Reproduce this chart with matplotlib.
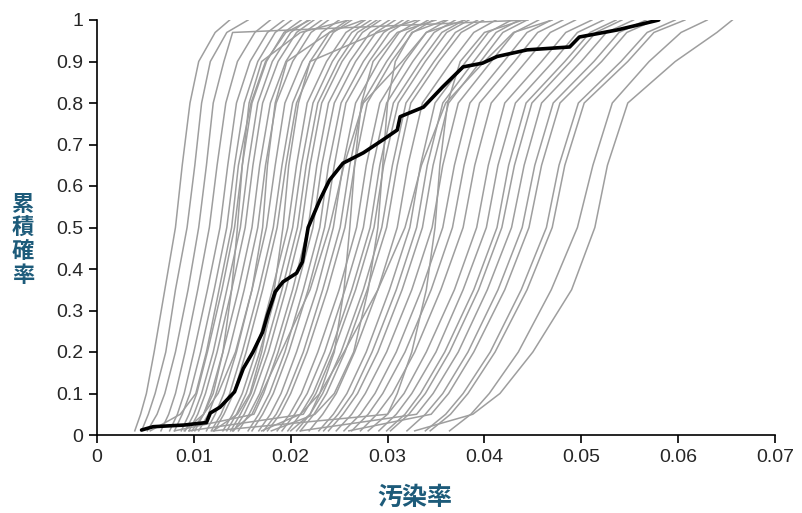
import matplotlib
matplotlib.use("Agg")
import matplotlib.pyplot as plt
import numpy as np

# cumulative probability levels at which each simulated run is tabulated
levels = [0.01, 0.05, 0.1, 0.2, 0.35, 0.5, 0.65, 0.8, 0.9, 0.97, 1.0]

# contamination rate (per mille) of each simulated run at those levels
runs_permille = [
    [3.9, 4.5, 5.1, 5.9, 7.0, 8.1, 8.8, 9.6, 10.5, 12.2, 13.7],
    [4.6, 5.3, 6.0, 7.1, 8.1, 9.3, 10.1, 10.8, 11.7, 13.4, 15.6],
    [5.2, 6.2, 7.0, 8.1, 9.4, 10.5, 11.3, 12.0, 13.1, 14.0, 44.5],
    [6.6, 7.4, 8.1, 9.1, 10.4, 11.6, 12.4, 13.3, 14.5, 16.3, 17.9],
    [7.5, 8.3, 9.0, 10.0, 11.4, 12.7, 13.5, 14.4, 15.8, 17.6, 19.3],
    [8.0, 8.8, 9.6, 10.7, 12.1, 13.4, 14.2, 15.2, 16.6, 18.4, 20.1],
    [5.5, 8.6, 10.2, 11.3, 12.6, 13.9, 14.6, 15.9, 17.4, 19.5, 22.0],
    [8.7, 9.5, 10.3, 11.4, 12.9, 14.2, 15.0, 16.0, 17.5, 19.3, 21.1],
    [9.8, 11.0, 12.0, 13.0, 13.9, 14.5, 15.0, 15.7, 17.0, 21.0, 26.0],
    [9.1, 10.0, 10.8, 12.0, 13.4, 14.8, 15.6, 16.6, 18.1, 20.0, 21.8],
    [9.5, 10.4, 11.2, 12.4, 13.9, 15.3, 16.1, 17.1, 18.7, 20.6, 22.4],
    [10.1, 11.0, 11.8, 13.0, 14.6, 16.0, 16.8, 17.9, 19.5, 21.4, 23.2],
    [10.5, 11.5, 12.3, 13.6, 15.2, 16.6, 17.4, 18.5, 20.2, 22.1, 23.9],
    [9.0, 11.0, 12.5, 14.3, 16.0, 17.1, 17.6, 18.4, 19.6, 24.0, 27.5],
    [11.3, 12.2, 13.1, 14.4, 16.0, 17.5, 18.4, 19.4, 21.2, 23.2, 25.0],
    [11.8, 12.8, 13.7, 15.0, 16.7, 18.2, 19.1, 20.2, 22.0, 24.0, 25.9],
    [12.1, 13.1, 14.1, 15.4, 17.1, 18.6, 19.5, 20.6, 22.5, 24.4, 26.3],
    [12.0, 14.5, 15.8, 17.0, 18.3, 19.2, 19.8, 20.8, 22.0, 29.0, 33.0],
    [13.0, 14.0, 15.0, 16.4, 18.1, 19.7, 20.6, 21.7, 23.7, 25.7, 27.7],
    [13.4, 14.4, 15.4, 16.8, 18.6, 20.2, 21.1, 22.3, 24.3, 26.3, 28.3],
    [13.8, 14.8, 15.9, 17.3, 19.1, 20.7, 21.6, 22.8, 24.9, 26.9, 28.9],
    [14.1, 15.2, 16.2, 17.7, 19.5, 21.1, 22.0, 23.2, 25.3, 27.4, 29.3],
    [14.6, 15.7, 16.8, 18.3, 20.2, 21.8, 22.7, 23.9, 26.1, 28.2, 30.2],
    [8.0, 16.2, 17.2, 18.7, 20.6, 22.3, 23.2, 24.5, 26.7, 28.8, 30.8],
    [15.6, 16.7, 17.8, 19.4, 21.3, 23.0, 23.9, 25.2, 27.5, 29.6, 31.6],
    [16.0, 17.1, 18.2, 19.8, 21.8, 23.5, 24.5, 25.7, 28.1, 30.2, 32.2],
    [14.0, 16.0, 17.0, 19.0, 22.0, 24.0, 25.5, 27.5, 31.5, 34.0, 38.0],
    [16.7, 17.9, 19.0, 20.6, 22.7, 24.4, 25.4, 26.7, 29.1, 31.2, 33.3],
    [17.2, 18.5, 19.6, 21.3, 23.3, 25.1, 26.1, 27.4, 29.9, 32.0, 34.2],
    [17.6, 18.9, 20.0, 21.7, 23.8, 25.6, 26.6, 27.9, 30.4, 32.6, 34.7],
    [20.0, 22.0, 23.0, 24.5, 25.5, 26.1, 26.6, 27.3, 28.5, 31.0, 35.0],
    [18.6, 19.9, 21.1, 22.8, 25.0, 26.8, 27.8, 29.2, 31.8, 34.0, 36.2],
    [19.1, 20.4, 21.7, 23.5, 25.6, 27.5, 28.5, 29.9, 32.6, 34.8, 37.0],
    [19.7, 21.0, 22.3, 24.1, 26.3, 28.2, 29.2, 30.6, 33.4, 35.6, 37.9],
    [9.5, 21.3, 22.6, 24.4, 26.7, 28.6, 29.6, 31.1, 33.9, 36.1, 38.4],
    [18.0, 22.5, 24.5, 26.5, 28.0, 29.0, 29.5, 30.0, 30.8, 32.5, 36.0],
    [20.6, 22.0, 23.3, 25.2, 27.5, 29.4, 30.5, 31.9, 34.8, 37.0, 39.3],
    [21.0, 22.4, 23.7, 25.6, 27.9, 29.9, 31.0, 32.4, 35.3, 37.6, 39.9],
    [21.9, 23.3, 24.7, 26.6, 29.0, 31.0, 32.1, 33.6, 36.6, 38.9, 41.2],
    [17.0, 21.0, 23.0, 25.5, 29.0, 31.8, 33.5, 36.0, 40.0, 43.0, 47.0],
    [22.9, 24.4, 25.8, 27.8, 30.2, 32.3, 33.4, 34.9, 38.1, 40.4, 42.8],
    [23.4, 24.9, 26.4, 28.4, 30.9, 33.0, 34.1, 35.7, 38.9, 41.2, 43.6],
    [23.9, 25.4, 26.9, 29.0, 31.5, 33.6, 34.7, 36.3, 39.6, 41.9, 44.4],
    [24.7, 26.3, 27.7, 29.9, 32.5, 34.6, 35.7, 37.3, 40.7, 43.1, 45.6],
    [28.0, 30.0, 31.0, 32.5, 34.0, 34.9, 35.4, 36.2, 37.5, 40.0, 44.0],
    [25.5, 27.2, 28.7, 30.9, 33.5, 35.7, 36.9, 38.5, 42.0, 44.4, 46.9],
    [26.3, 28.0, 29.5, 31.8, 34.5, 36.7, 37.9, 39.5, 43.1, 45.5, 48.1],
    [27.2, 28.9, 30.5, 32.8, 35.5, 37.8, 39.0, 40.7, 44.3, 46.8, 49.4],
    [12.0, 30.0, 31.7, 34.0, 36.9, 39.2, 40.4, 42.1, 45.9, 48.4, 51.1],
    [29.1, 30.9, 32.5, 35.0, 37.8, 40.2, 41.4, 43.2, 47.1, 49.6, 52.3],
    [29.9, 31.8, 33.4, 35.9, 38.9, 41.3, 42.5, 44.3, 48.3, 50.9, 53.6],
    [30.3, 32.2, 33.9, 36.4, 39.4, 41.8, 43.1, 44.9, 48.9, 51.5, 54.2],
    [21.0, 33.0, 34.7, 37.3, 40.3, 42.8, 44.1, 45.9, 50.0, 52.6, 55.4],
    [32.0, 33.9, 35.7, 38.3, 41.4, 43.9, 45.2, 47.1, 51.3, 53.9, 56.7],
    [26.0, 34.5, 36.3, 38.9, 42.1, 44.6, 45.9, 47.8, 52.1, 54.7, 57.6],
    [33.9, 36.0, 37.8, 40.6, 43.8, 46.4, 47.7, 49.7, 54.1, 56.8, 59.7],
    [34.4, 36.5, 38.3, 41.1, 44.4, 47.0, 48.3, 50.3, 54.8, 57.5, 60.7],
    [36.4, 38.6, 40.5, 43.5, 46.9, 49.6, 51.2, 53.2, 57.0, 60.3, 63.0],
    [32.8, 38.8, 41.6, 45.0, 49.0, 51.4, 52.7, 54.8, 59.7, 64.0, 65.6],
]

# observed curve (rate as a fraction, cumulative probability)
observed_rate = [0.0046, 0.0058, 0.0090, 0.0113, 0.0117, 0.0127, 0.0142, 0.0151,
                 0.0161, 0.0171, 0.0176, 0.0184, 0.0192, 0.0206, 0.0212, 0.0218,
                 0.0230, 0.0240, 0.0254, 0.0275, 0.0295, 0.0310, 0.0313, 0.0337,
                 0.0357, 0.0378, 0.0398, 0.0413, 0.0444, 0.0488, 0.0498, 0.0537,
                 0.0580]
observed_prob = [0.012, 0.020, 0.024, 0.030, 0.053, 0.067, 0.104, 0.160,
                 0.200, 0.248, 0.289, 0.345, 0.369, 0.390, 0.417, 0.500,
                 0.566, 0.614, 0.655, 0.680, 0.711, 0.735, 0.767, 0.790,
                 0.839, 0.887, 0.896, 0.912, 0.928, 0.935, 0.959, 0.976,
                 1.000]

x_ticks = [0, 0.01, 0.02, 0.03, 0.04, 0.05, 0.06, 0.07]
x_ticklabels = ["0", "0.01", "0.02", "0.03", "0.04", "0.05", "0.06", "0.07"]
y_ticks = [0, 0.1, 0.2, 0.3, 0.4, 0.5, 0.6, 0.7, 0.8, 0.9, 1.0]
y_ticklabels = ["0", "0.1", "0.2", "0.3", "0.4", "0.5", "0.6", "0.7", "0.8", "0.9", "1"]

LABEL_COLOR = "#1d5b7a"
CJK = ["Noto Sans CJK JP", "DejaVu Sans"]

fig = plt.figure(figsize=(8.03, 5.13), dpi=100)
ax = fig.add_axes([97 / 803, 78 / 513, 678 / 803, 415 / 513])

for row in runs_permille:
    ax.plot(np.asarray(row) / 1000, levels, color="#9e9e9e", lw=1.1, zorder=2)
ax.plot(observed_rate, observed_prob, color="black", lw=2.6, zorder=3,
        solid_capstyle="round", solid_joinstyle="round")

ax.set_xlim(0, 0.07)
ax.set_ylim(0, 1)
ax.set_xticks(x_ticks)
ax.set_xticklabels(x_ticklabels)
ax.set_yticks(y_ticks)
ax.set_yticklabels(y_ticklabels)
for side in ("top", "right"):
    ax.spines[side].set_visible(False)
for side in ("left", "bottom"):
    ax.spines[side].set_linewidth(1.2)
ax.tick_params(axis="both", direction="out", length=6, width=1.2,
               labelsize=14, labelcolor="#262626", pad=4)
for lab in ax.get_xticklabels() + ax.get_yticklabels():
    lab.set_fontfamily("Liberation Sans")

fig.text(23 / 803, 1 - 240 / 513, "\n".join("累積確率"), family=CJK,
         fontsize=16, fontweight="bold", color=LABEL_COLOR,
         ha="center", va="center", linespacing=1.05)
fig.text(415 / 803, 1 - 498 / 513, "汚染率", family=CJK,
         fontsize=18, fontweight="bold", color=LABEL_COLOR,
         ha="center", va="center")

fig.savefig("out.png", dpi=100)
